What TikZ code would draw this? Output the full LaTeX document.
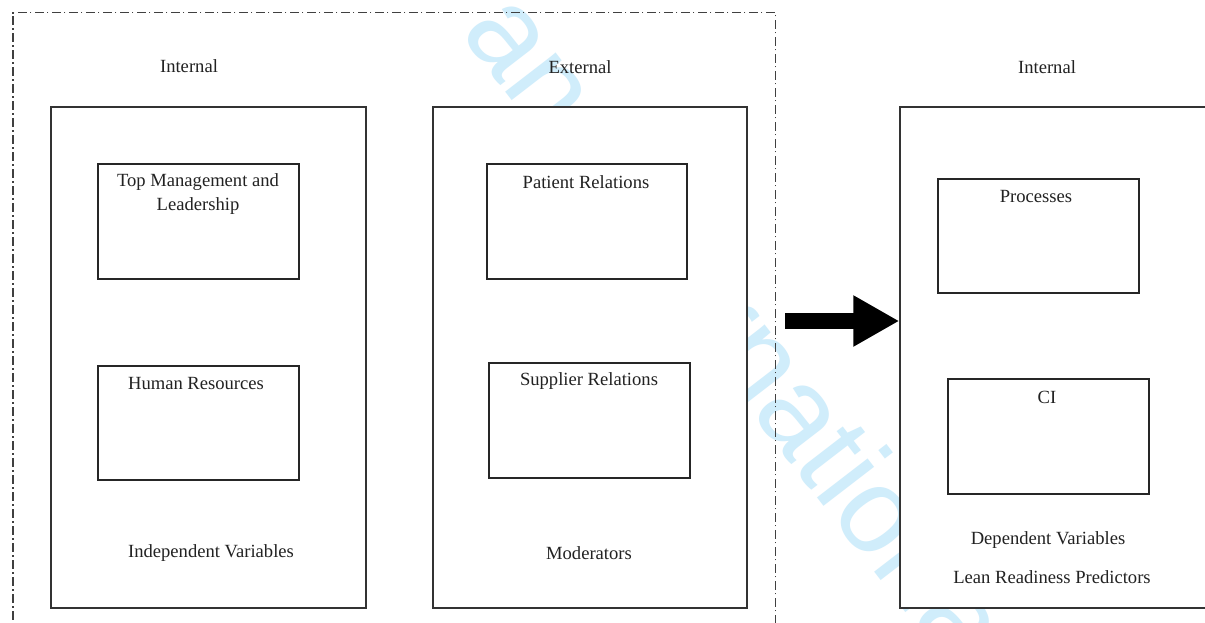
\documentclass[tikz,border=0pt]{standalone}
\usepackage{fontspec}
\setmainfont{Liberation Serif}
\newfontfamily\wmfont{Liberation Sans}
\usetikzlibrary{fit,arrows.meta}
\definecolor{wmblue}{RGB}{208,237,251}
\definecolor{ink}{RGB}{34,34,34}
\tikzset{
  frameline/.style={draw=black!75, line width=0.6pt,
    dash pattern=on 4.5pt off 1.6pt on 0.8pt off 1.6pt},
  panel/.style={draw=black!80, line width=0.7pt, fill=white, inner sep=0pt},
  itembox/.style={draw=black!85, line width=0.75pt, fill=white, inner sep=0pt},
  lbl/.style={font=\fontsize{9.3}{12}\selectfont, text=ink, inner sep=0pt, align=center},
  bigarrow/.style={draw=black, line width=8pt, -{Triangle[length=23pt,width=24pt]}},
  wmark/.style={font=\wmfont\fontsize{60.5}{60}\selectfont, text=wmblue, inner sep=0pt}
}
\begin{document}
\begin{tikzpicture}[x=0.5pt, y=-0.5pt]
  \useasboundingbox (0,0) rectangle (1205,622);
  \clip (0,0) rectangle (1205,622);
  \fill[white] (0,0) rectangle (1205,622);

  % background watermark
  \node[wmark, rotate=-52.4, anchor=base west] (wm) at (-60.4,-642.4)
    {Benchmarking: an International Journal};

  % dash-dotted frame around the predictor panels
  \node[frameline, inner sep=0pt, fit={(13,12.5) (775.5,660)}] (frame) {};

  % panels
  \node[panel, fit={(51,107) (366,608)}] (pindep) {};
  \node[panel, fit={(433,107) (747,608)}] (pmod) {};
  \node[panel, fit={(900,107) (1240,608)}] (pdep) {};

  % variable boxes
  \node[itembox, fit={(98,164) (299,279)}] (btop) {};
  \node[itembox, fit={(98,366) (299,480)}] (bhr) {};
  \node[itembox, fit={(487,164) (687,279)}] (bpat) {};
  \node[itembox, fit={(489,363) (690,478)}] (bsup) {};
  \node[itembox, fit={(938,179) (1139,293)}] (bproc) {};
  \node[itembox, fit={(948,379) (1149,494)}] (bci) {};

  % headings
  \node[lbl] (hintA) at (189,66) {Internal};
  \node[lbl] (hext) at (580,67) {External};
  \node[lbl] (hintB) at (1047,67) {Internal};

  % box labels
  \node[lbl] (ltop) at (198,194) {Top Management and\\Leadership};
  \node[lbl] (lhr) at (196,383) {Human Resources};
  \node[lbl] (lpat) at (586,182) {Patient Relations};
  \node[lbl] (lsup) at (589,381) {Supplier Relations};
  \node[lbl] (lproc) at (1036,196) {Processes};
  \node[lbl] (lci) at (1047,397) {CI};

  % panel captions
  \node[lbl] (civ) at (211,553) {Independent Variables};
  \node[lbl] (cmod) at (589,553) {Moderators};
  \node[lbl] (cdv) at (1048,540) {Dependent Variables};
  \node[lbl] (clrp) at (1052,577) {Lean Readiness Predictors};

  % block arrow into the dependent panel
  \coordinate (astart) at (785,321);
  \draw[bigarrow] (astart) -- (astart -| pdep.west);
\end{tikzpicture}
\end{document}
